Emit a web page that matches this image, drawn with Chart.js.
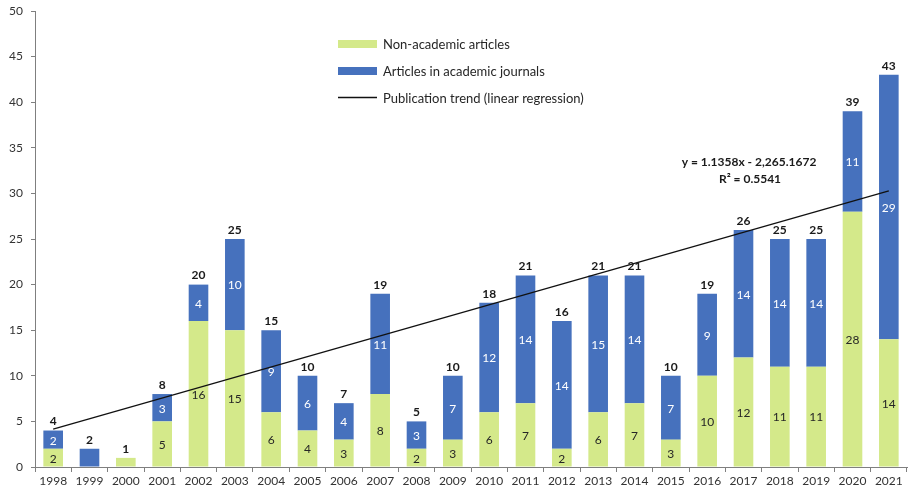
<!DOCTYPE html>
<html>
<head>
<meta charset="utf-8">
<script src="https://cdn.jsdelivr.net/npm/chart.js@4.4.1/dist/chart.umd.min.js"></script>
<style>
html,body{margin:0;padding:0;background:#fff;}
#wrap{position:relative;width:908px;height:489px;}
</style>
</head>
<body>
<div id="wrap"><canvas id="c" width="908" height="489"></canvas></div>
<script>
const years = ['1998','1999','2000','2001','2002','2003','2004','2005','2006','2007','2008','2009','2010','2011','2012','2013','2014','2015','2016','2017','2018','2019','2020','2021'];
const nonAcademic = [2,0,1,5,16,15,6,4,3,8,2,3,6,7,2,6,7,3,10,12,11,11,28,14];
const academic    = [2,2,0,3,4,10,9,6,4,11,3,7,12,14,14,15,14,7,9,14,14,14,11,29];
const trendStart = 4.16;   // value of trend line at 1998
const trendEnd = 30.28;    // value of trend line at 2021
const yTicks = [0,5,10,15,20,25,30,35,40,45,50];
const equationText = ['y = 1.1358x - 2,265.1672', 'R\u00b2 = 0.5541'];
const seriesNames = ['Non-academic articles','Articles in academic journals','Publication trend (linear regression)'];

const GREEN = '#d4e98a';
const BLUE = '#4671bd';
const FONT = 'Lato, "Open Sans", sans-serif';

const trendData = years.map((y,i)=> i===0 ? trendStart : (i===years.length-1 ? trendEnd : null));

const labelsPlugin = {
  id:'labels',
  afterDatasetsDraw(chart){
    const ctx = chart.ctx;
    const m0 = chart.getDatasetMeta(0), m1 = chart.getDatasetMeta(1);
    ctx.save();
    ctx.textAlign='center'; ctx.textBaseline='middle';
    years.forEach((yr,i)=>{
      const a = nonAcademic[i], b = academic[i];
      const showInner = a>0 && b>0;
      if(showInner){
        const e0 = m0.data[i], e1 = m1.data[i];
        ctx.font = '12px '+FONT;
        ctx.fillStyle = '#262626';
        ctx.fillText(String(a), e0.x, (e0.y+e0.base)/2+1);
        ctx.fillStyle = '#ffffff';
        ctx.fillText(String(b), e1.x, (e1.y+e1.base)/2+1);
      }
      const tot = a+b;
      const yTop = chart.scales.y.getPixelForValue(tot);
      const x = m0.data[i].x;
      ctx.font = 'bold 12px '+FONT;
      ctx.fillStyle = '#1a1a1a';
      ctx.fillText(String(tot), x, yTop-9);
    });
    // equation
    ctx.font = 'bold 12px '+FONT;
    ctx.fillStyle = '#1a1a1a';
    ctx.fillText(equationText[0], 749, 162);
    ctx.fillText(equationText[1], 750, 179);
    // legend
    const ds = chart.data.datasets;
    const ys = [44, 71, 97.5];
    ctx.textAlign='left';
    ctx.font = '13px '+FONT;
    ds.forEach((d,k)=>{
      if(d.type==='line'){
        ctx.strokeStyle = d.borderColor; ctx.lineWidth = 1.3;
        ctx.beginPath(); ctx.moveTo(338, ys[k]); ctx.lineTo(377, ys[k]); ctx.stroke();
      } else {
        ctx.fillStyle = d.backgroundColor;
        ctx.fillRect(338, ys[k]-4, 39, 8);
      }
      ctx.fillStyle = '#262626';
      ctx.fillText(d.label, 383, ys[k]+1);
    });
    ctx.restore();
  }
};

new Chart(document.getElementById('c'), {
  type:'bar',
  data:{
    labels: years,
    datasets:[
      {label: seriesNames[0], data: nonAcademic, backgroundColor: GREEN, stack:'s', categoryPercentage:1, barPercentage:0.54, order:2},
      {label: seriesNames[1], data: academic, backgroundColor: BLUE, stack:'s', categoryPercentage:1, barPercentage:0.54, order:2},
      {type:'line', label: seriesNames[2], data: trendData, borderColor:'#111', borderWidth:1.3, pointRadius:0, spanGaps:true, fill:false, order:0}
    ]
  },
  options:{
    responsive:false,
    animation:false,
    devicePixelRatio:1,
    layout:{padding:{top:11, right:1, left:0, bottom:0}},
    plugins:{legend:{display:false}, tooltip:{enabled:false}},
    scales:{
      x:{
        stacked:true,
        offset:true,
        afterFit(s){ s.height = 22; s.paddingLeft = 0; s.paddingRight = 0; },
        grid:{drawOnChartArea:false, drawTicks:true, tickLength:5, offset:true, color:'#7f7f7f'},
        border:{display:true, color:'#7f7f7f', width:1},
        ticks:{font:{family:FONT, size:12}, color:'#333', padding:2, maxRotation:0, autoSkip:false}
      },
      y:{
        stacked:true,
        min:0, max:50,
        afterFit(s){ s.width = 35; s.paddingTop = 0; s.paddingBottom = 0; },
        afterBuildTicks(s){ s.ticks = yTicks.map(v=>({value:v})); },
        grid:{drawOnChartArea:false, drawTicks:true, tickLength:4, color:'#7f7f7f'},
        border:{display:true, color:'#7f7f7f', width:1},
        ticks:{font:{family:FONT, size:12}, color:'#333', padding:8}
      }
    }
  },
  plugins:[labelsPlugin]
});
</script>
</body>
</html>
